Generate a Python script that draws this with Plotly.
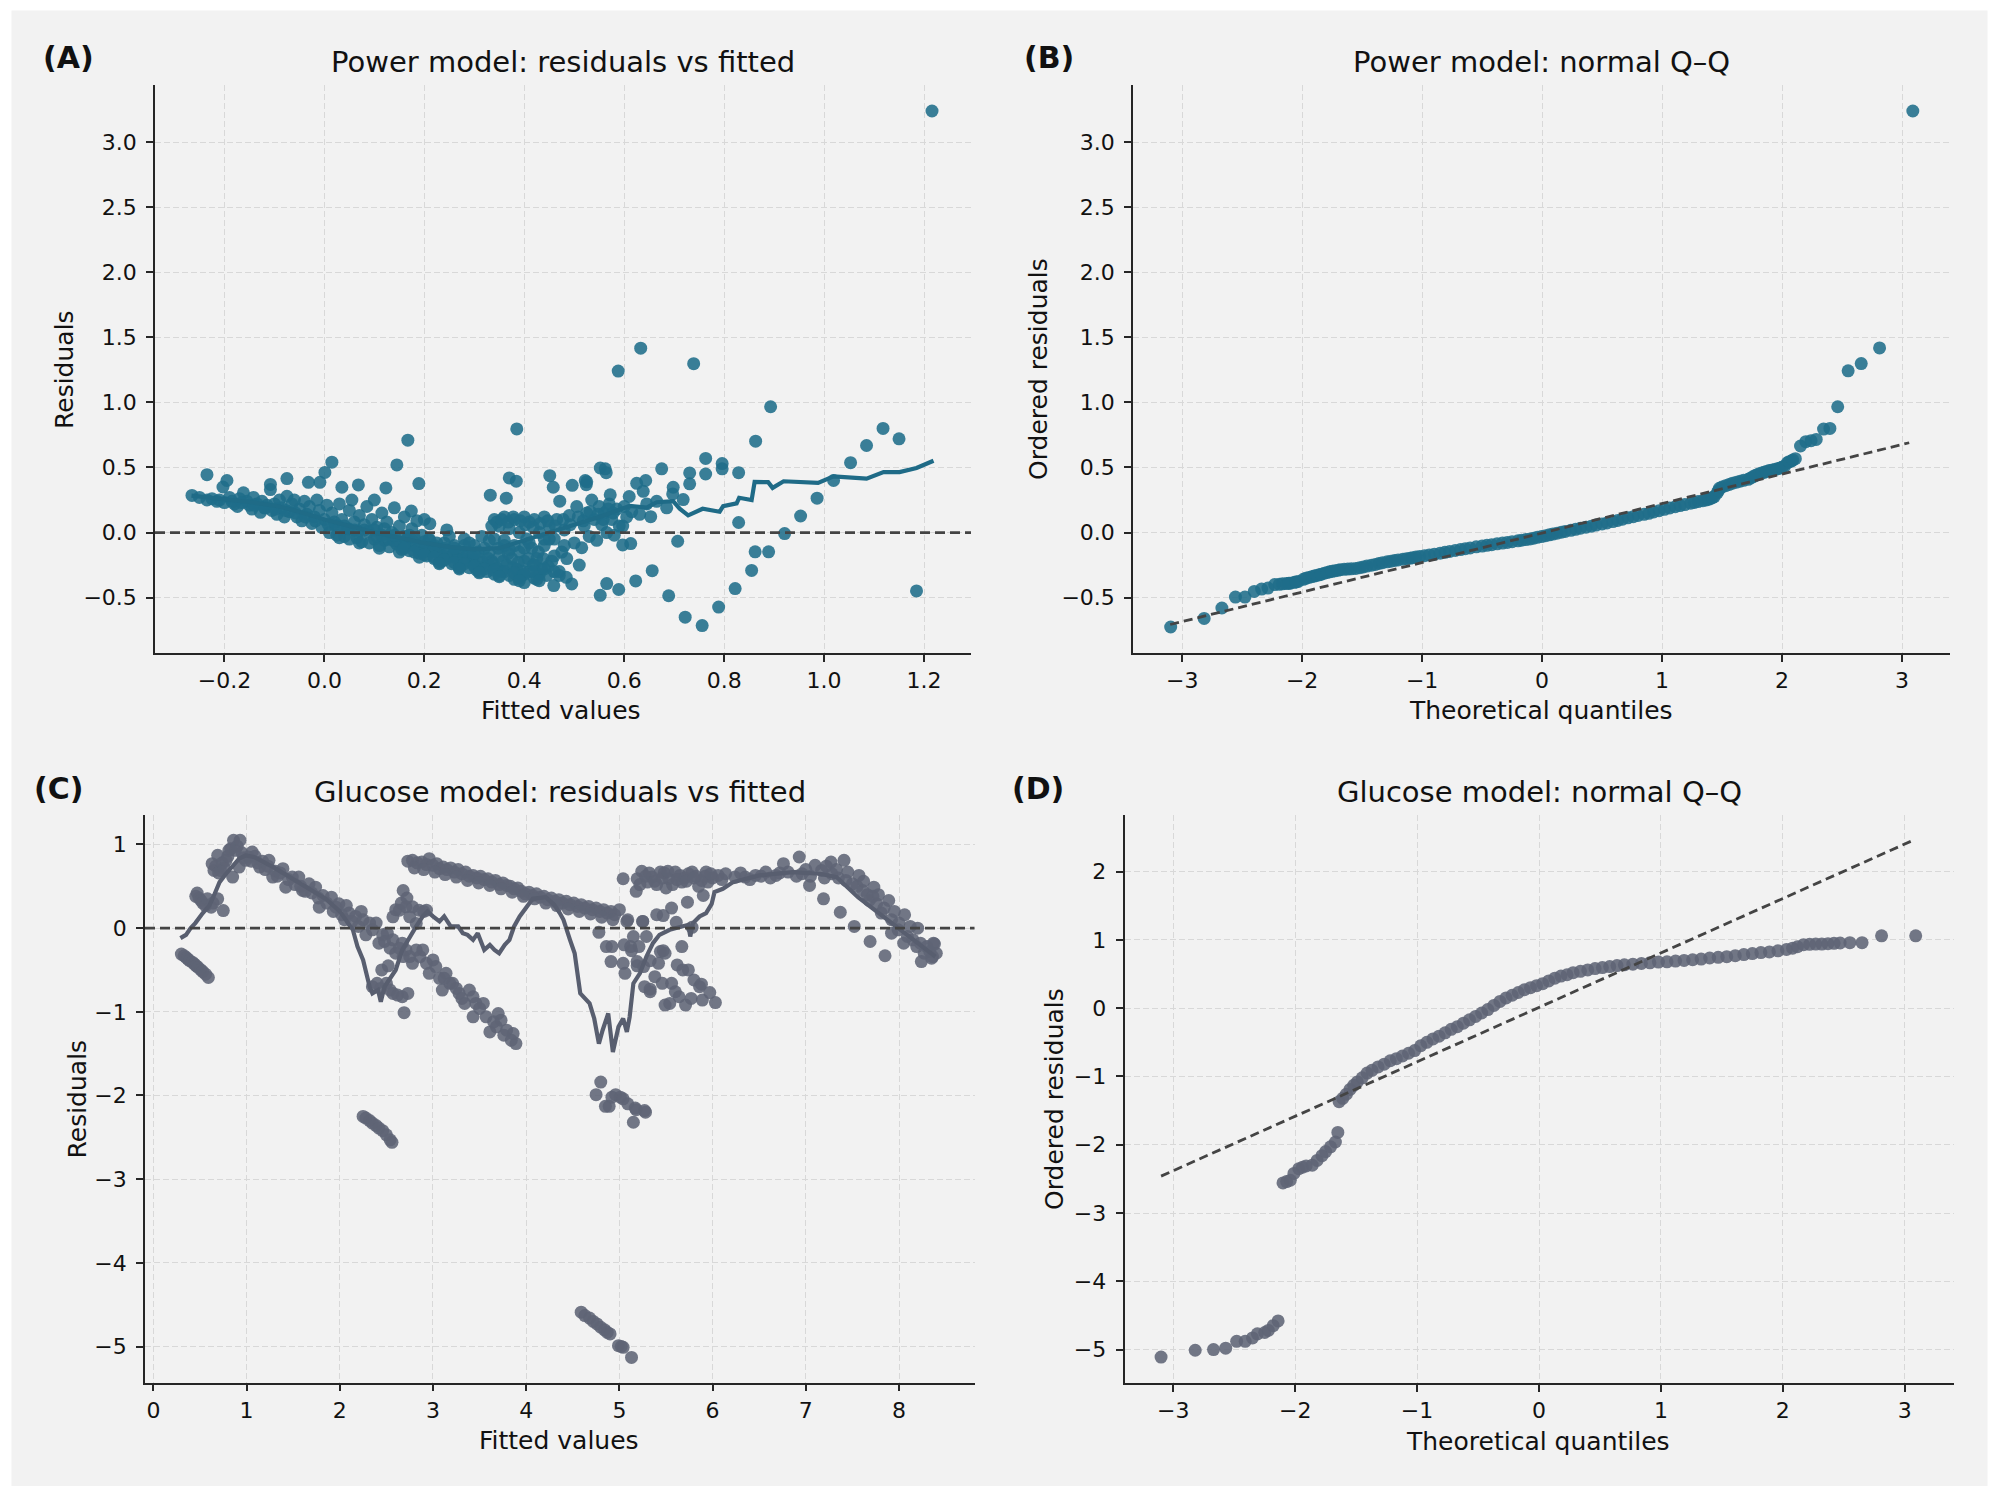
import plotly.graph_objects as go

# colours / fonts
TEAL = "#1f6d8a"
TEAL_LINE = "#1f6b87"
SLATE = "#5e6475"
SLATE_LINE = "#585e6f"
REF_LINE = "#444444"
PANEL_BG = "#f2f2f2"
GRID = "#d8d8d8"
SPINE = "#262626"
TEXT = "#111111"
FONT = "DejaVu Sans"

W, H = 1999, 1500

# ---------------- (A) power model: residuals vs fitted ----------------
power_fitted = [
    -0.265, -0.235, -0.235, -0.215, -0.203, -0.195, -0.200, -0.190, -0.180, -0.174,
    -0.170, -0.162, -0.155, -0.150, -0.145, -0.142, -0.135, -0.128, -0.125, -0.120,
    -0.115, -0.108, -0.108, -0.105, -0.100,
    -0.095, -0.090, -0.085, -0.080, -0.075, -0.075, -0.070, -0.065, -0.060, -0.055,
    -0.050, -0.045, -0.040, -0.035, -0.032, -0.030, -0.025, -0.020, -0.015, -0.010,
    -0.009, -0.005, 0.001, 0.000, 0.005,
    0.010, 0.015, 0.015, 0.020, 0.025, 0.030, 0.035, 0.035, 0.040, 0.045,
    0.050, 0.050, 0.055, 0.060, 0.065, 0.068, 0.070, 0.075, 0.080, 0.085,
    0.090, 0.095, 0.100, 0.100, 0.105,
    0.110, 0.115, 0.120, 0.123, 0.125, 0.130, 0.135, 0.140, 0.145, 0.145,
    0.150, 0.155, 0.160, 0.165, 0.167, 0.170, 0.174, 0.175, 0.180, 0.185,
    0.189, 0.190, 0.195, 0.200, 0.200, 0.205, 0.211, 0.210,
    0.215, 0.220, 0.225, 0.230, 0.235, 0.240, 0.245, 0.250, 0.255, 0.260,
    0.265, 0.270, 0.275, 0.280, 0.285, 0.290, 0.295, 0.300, 0.300, 0.305,
    0.310, 0.315, 0.320, 0.325, 0.330, 0.332, 0.335,
    0.340, 0.340, 0.345, 0.350, 0.350, 0.355, 0.360, 0.360, 0.364, 0.365,
    0.370, 0.370, 0.370, 0.375, 0.380, 0.380, 0.384, 0.385, 0.385, 0.390,
    0.390, 0.395, 0.400, 0.400, 0.400, 0.405, 0.410, 0.410, 0.415, 0.420,
    0.420,
    0.425, 0.425, 0.430, 0.435, 0.440, 0.440, 0.445, 0.450, 0.451, 0.455,
    0.458, 0.459, 0.460, 0.465, 0.470, 0.471, 0.475, 0.480, 0.484, 0.485,
    0.490, 0.495, 0.496, 0.500, 0.505, 0.510,
    0.515, 0.520, 0.522, 0.524, 0.525, 0.525, 0.530, 0.535, 0.540, 0.545,
    0.550, 0.552, 0.552, 0.555, 0.560, 0.562, 0.564, 0.565, 0.565, 0.570,
    0.572, 0.575, 0.580, 0.585, 0.588, 0.589, 0.590, 0.597, 0.597, 0.600,
    0.605, 0.610, 0.613, 0.615, 0.623, 0.625, 0.631, 0.633, 0.638, 0.643,
    0.645, 0.653, 0.656, 0.665, 0.675, 0.685, 0.689, 0.697, 0.698, 0.707,
    0.718, 0.722, 0.731, 0.731, 0.739, 0.756, 0.763, 0.763, 0.789, 0.796,
    0.796, 0.822, 0.829, 0.829, 0.855, 0.862, 0.863, 0.889, 0.893, 0.921,
    0.953, 0.986, 1.019, 1.053, 1.085, 1.118, 1.150, 1.185, 1.216,
    0.105, 0.115, 0.128, 0.138, 0.152, 0.162, 0.178, 0.188, 0.198, 0.218,
    0.228, 0.238, 0.248, 0.258, 0.268, 0.278, 0.288, 0.298, 0.308, 0.318,
    0.328, 0.338, 0.348, 0.358, 0.368, 0.378, 0.388, 0.398, 0.408, 0.418,
    0.428, 0.438, 0.448,
    -0.250, -0.225, -0.210, -0.185, -0.165, -0.140, -0.118, -0.098, -0.078, -0.058,
    -0.038, -0.018, 0.008, 0.028, 0.048, 0.068, 0.088,
    0.335, 0.345, 0.355, 0.368, 0.378, 0.392, 0.402, 0.418, 0.432, 0.447,
    0.462, 0.478, 0.492, 0.508, 0.518, 0.532, 0.548, 0.558, 0.568, 0.578,
    0.020, 0.040, 0.060, 0.080, 0.100, 0.120, 0.140, 0.160, 0.180, 0.200,
    0.220, 0.240, 0.260, 0.280, 0.300, 0.320, 0.340, 0.360, 0.380, 0.400,
    0.420, 0.440, 0.460, 0.480,
    0.030, 0.070, 0.110, 0.150, 0.190, 0.230, 0.270, 0.310, 0.350, 0.390,
    0.430, 0.470,
    0.160, 0.180, 0.200, 0.220, 0.240, 0.260, 0.280, 0.300, 0.320, 0.340,
    0.360, 0.380, 0.400, 0.420, 0.440, 0.460,
    0.170, 0.210, 0.250, 0.290, 0.330, 0.370, 0.410, 0.450,
    0.230, 0.270, 0.310, 0.350, 0.390, 0.430,
]
power_resid = [
    0.285, 0.445, 0.250, 0.240, 0.350, 0.400, 0.230, 0.270, 0.220, 0.200,
    0.260, 0.305, 0.240, 0.210, 0.180, 0.270, 0.220, 0.155, 0.240, 0.190,
    0.210, 0.370, 0.330, 0.170, 0.220,
    0.140, 0.250, 0.190, 0.120, 0.415, 0.279, 0.160, 0.220, 0.250, 0.120,
    0.180, 0.090, 0.240, 0.140, 0.386, 0.200, 0.070, 0.120, 0.250, 0.170,
    0.386, 0.040, 0.462, 0.100, 0.210,
    0.000, 0.541, 0.150, 0.060, -0.020, 0.220, 0.348, 0.100, -0.030, 0.030,
    0.170, -0.050, 0.250, 0.080, -0.040, 0.366, 0.130, -0.070, 0.020, 0.200,
    -0.080, 0.100, -0.050, 0.250, 0.040,
    -0.100, 0.150, -0.060, 0.343, 0.080, -0.110, 0.000, 0.190, 0.520, -0.090,
    0.050, -0.130, 0.120, -0.050, 0.710, -0.140, 0.165, 0.030, -0.100, 0.090,
    0.376, -0.160, -0.020, 0.100, -0.120, -0.180, 0.068, -0.050,
    -0.150, -0.200, -0.080, -0.170, -0.220, -0.120, 0.020, -0.190, -0.240, -0.100,
    -0.200, -0.260, -0.150, -0.050, -0.220, -0.270, -0.180, -0.100, -0.250, -0.290,
    -0.200, -0.030, -0.260, -0.300, -0.150, 0.287, -0.220,
    0.100, -0.320, -0.270, 0.050, -0.180, -0.300, 0.120, -0.100, 0.264, -0.250,
    0.420, 0.030, -0.330, -0.200, 0.100, -0.360, 0.395, 0.796, -0.280, 0.000,
    -0.150, -0.330, 0.120, -0.385, -0.220, -0.050, 0.080, -0.300, -0.120, 0.100,
    -0.350,
    -0.360, -0.200, 0.000, -0.280, 0.120, -0.100, -0.330, 0.050, 0.437, -0.220,
    0.348, -0.408, -0.050, 0.100, -0.300, 0.241, -0.150, 0.020, -0.344, -0.200,
    0.130, -0.395, 0.363, -0.080, 0.200, -0.250,
    -0.117, 0.050, 0.400, 0.368, 0.390, 0.150, -0.030, 0.250, 0.100, -0.060,
    0.200, 0.496, -0.483, 0.060, 0.150, 0.490, 0.460, -0.392, 0.000, 0.220,
    0.290, 0.100, -0.020, 0.180, 1.241, -0.438, 0.050, -0.095, 0.050, 0.200,
    0.120, 0.277, -0.085, 0.160, -0.372, 0.378, 0.140, 1.417, 0.317, 0.400,
    0.220, 0.122, -0.293, 0.240, 0.490, 0.190, -0.486, 0.297, 0.348, -0.067,
    0.253, -0.651, 0.458, 0.374, 1.298, -0.715, 0.570, 0.450, -0.573, 0.530,
    0.490, -0.431, 0.460, 0.077, -0.291, -0.148, 0.702, -0.148, 0.967, -0.008,
    0.127, 0.264, 0.400, 0.537, 0.669, 0.800, 0.720, -0.449, 3.240,
    -0.030, -0.020, -0.050, -0.060, -0.080, -0.090, -0.070, -0.120, -0.150, -0.110,
    -0.130, -0.180, -0.140, -0.170, -0.150, -0.200, -0.160, -0.210, -0.150, -0.230,
    -0.200, -0.240, -0.120, -0.220, -0.160, -0.270, -0.230, -0.300, -0.200, -0.250,
    -0.150, -0.200, -0.260,
    0.270, 0.260, 0.250, 0.240, 0.230, 0.210, 0.190, 0.180, 0.170, 0.150,
    0.120, 0.090, 0.060, 0.050, 0.030, 0.010, 0.010,
    0.050, 0.080, 0.100, 0.080, 0.120, 0.090, 0.060, 0.040, 0.070, 0.090,
    0.050, 0.100, 0.060, 0.120, 0.090, 0.160, 0.140, 0.100, 0.180, 0.150,
    0.080, 0.050, 0.020, 0.060, 0.020, 0.030, -0.020, -0.030, -0.040, -0.070,
    -0.100, -0.080, -0.120, -0.100, -0.160, -0.120, -0.050, -0.060, -0.100, -0.120,
    -0.250, -0.050, -0.180, -0.100,
    -0.040, -0.080, -0.120, -0.150, -0.190, -0.230, -0.270, -0.300, -0.330, -0.350,
    -0.320, -0.330,
    -0.120, -0.150, -0.170, -0.190, -0.210, -0.230, -0.240, -0.260, -0.280, -0.290,
    -0.300, -0.310, -0.320, -0.300, -0.280, -0.300,
    -0.020, -0.060, -0.030, -0.080, -0.060, -0.130, -0.080, -0.050,
    -0.240, -0.280, -0.310, -0.340, -0.370, -0.370,
]

# smoother drawn through panel A
power_smooth_x = [
    -0.266, -0.200, -0.150, -0.090, -0.050, 0.000, 0.050, 0.100, 0.150, 0.200,
    0.250, 0.300, 0.350, 0.400, 0.450, 0.500, 0.550, 0.611, 0.645, 0.665,
    0.698, 0.711, 0.728, 0.757, 0.791, 0.798, 0.825, 0.830, 0.855, 0.861,
    0.888, 0.897, 0.919, 0.988, 1.019, 1.085, 1.119, 1.151, 1.185, 1.219,
]
power_smooth_y = [
    0.283, 0.255, 0.235, 0.200, 0.160, 0.100, 0.050, 0.000, -0.040, -0.080,
    -0.110, -0.130, -0.120, -0.060, 0.000, 0.060, 0.120, 0.204, 0.191, 0.233,
    0.241, 0.183, 0.132, 0.183, 0.160, 0.203, 0.224, 0.267, 0.249, 0.389,
    0.387, 0.343, 0.394, 0.381, 0.432, 0.414, 0.465, 0.465, 0.496, 0.552,
]

# ---------------- (B) power model: normal Q-Q ----------------
power_qq_theor = [
    -3.096, -2.817, -2.669, -2.556, -2.477, -2.399, -2.338, -2.285, -2.229, -2.190,
    -2.163, -2.130, -2.098, -2.065, -2.032, -1.990, -1.945, -1.900, -1.858, -1.815,
    -1.771, -1.727, -1.683, -1.620, -1.553, -1.490, -1.422, -1.360, -1.291, -1.230,
    -1.160, -1.100, -1.051, -0.980, -0.898, -0.810, -0.724, -0.640, -0.549, -0.460,
    -0.375, -0.290, -0.201, -0.135, -0.070, -0.005, 0.061, 0.125, 0.192, 0.280,
    0.366, 0.450, 0.541, 0.630, 0.715, 0.800, 0.890, 0.975, 1.064, 1.150,
    1.239, 1.300, 1.369, 1.405, 1.435, 1.460, 1.478, 1.530, 1.587, 1.650,
    1.718, 1.760, 1.805, 1.850, 1.893, 1.940, 1.980, 2.020, 2.045, 2.080,
    2.111, 2.154, 2.198, 2.242, 2.285, 2.346, 2.399, 2.464, 2.551, 2.660,
    2.813, 3.090,
    -2.11, -2.05, -1.97, -1.92, -1.88, -1.84, -1.79, -1.75, -1.70, -1.65,
    -1.59, -1.52, -1.46, -1.39, -1.33, -1.26, -1.20, -1.13, -1.08, -1.02,
    -0.94, -0.85, -0.77, -0.68, -0.60, -0.50, -0.42, -0.33, -0.25, -0.17,
    -0.10, -0.04, 0.03, 0.09, 0.16, 0.24, 0.32, 0.41, 0.50, 0.59,
    0.67, 0.76, 0.85, 0.93, 1.02, 1.11, 1.19, 1.27, 1.34, 1.39,
    1.42, 1.47, 1.50, 1.56, 1.62, 1.68, 1.74, 1.78, 1.83, 1.87,
    1.92, 1.96, 2.00, 2.06, 2.09,
]
power_qq_resid = [
    -0.726, -0.660, -0.580, -0.496, -0.496, -0.453, -0.435, -0.427, -0.400, -0.398,
    -0.394, -0.392, -0.389, -0.383, -0.376, -0.360, -0.345, -0.335, -0.325, -0.313,
    -0.302, -0.294, -0.286, -0.281, -0.276, -0.264, -0.251, -0.238, -0.225, -0.215,
    -0.205, -0.197, -0.189, -0.178, -0.166, -0.152, -0.138, -0.124, -0.110, -0.098,
    -0.087, -0.076, -0.064, -0.054, -0.043, -0.031, -0.018, -0.005, 0.008, 0.025,
    0.041, 0.057, 0.074, 0.093, 0.113, 0.131, 0.148, 0.168, 0.189, 0.207,
    0.225, 0.238, 0.251, 0.262, 0.276, 0.305, 0.340, 0.360, 0.379, 0.394,
    0.409, 0.430, 0.450, 0.463, 0.476, 0.485, 0.494, 0.510, 0.537, 0.550,
    0.568, 0.665, 0.698, 0.706, 0.716, 0.795, 0.800, 0.967, 1.243, 1.299,
    1.419, 3.240,
    -0.390, -0.380, -0.352, -0.340, -0.330, -0.320, -0.307, -0.298, -0.290, -0.283,
    -0.279, -0.270, -0.258, -0.245, -0.232, -0.220, -0.211, -0.201, -0.193, -0.184,
    -0.172, -0.159, -0.145, -0.131, -0.118, -0.104, -0.093, -0.081, -0.070, -0.059,
    -0.049, -0.037, -0.024, -0.012, 0.002, 0.017, 0.033, 0.049, 0.066, 0.084,
    0.103, 0.122, 0.140, 0.158, 0.178, 0.198, 0.215, 0.231, 0.245, 0.256,
    0.269, 0.322, 0.350, 0.370, 0.387, 0.401, 0.420, 0.440, 0.457, 0.470,
    0.481, 0.490, 0.502, 0.545, 0.558,
]
power_qq_line_x = [-3.10, 3.06]
power_qq_line_y = [-0.707, 0.690]

# ---------------- (C) glucose model: residuals vs fitted ----------------
gl_seg1_x = [0.30, 0.33, 0.35, 0.37, 0.39, 0.42, 0.44, 0.46, 0.48, 0.51, 0.53, 0.56, 0.59]
gl_seg1_y = [-0.31, -0.33, -0.35, -0.37, -0.39, -0.41, -0.43, -0.45, -0.47, -0.50, -0.52, -0.55, -0.59]

gl_peak_x = [
    0.455, 0.47, 0.49, 0.51, 0.53, 0.56, 0.58, 0.62, 0.64, 0.69,
    0.75, 0.63, 0.65, 0.67, 0.69, 0.70, 0.72, 0.74, 0.76, 0.78,
    0.80, 0.81, 0.83, 0.85, 0.86, 0.88, 0.90, 0.92, 0.93, 0.95,
    0.97, 0.99,
]
gl_peak_y = [
    0.38, 0.42, 0.36, 0.33, 0.30, 0.27, 0.35, 0.25, 0.30, 0.35,
    0.21, 0.77, 0.69, 0.74, 0.87, 0.66, 0.69, 0.78, 0.72, 0.81,
    0.86, 0.93, 0.95, 0.61, 1.05, 0.93, 0.98, 0.73, 1.05, 0.90,
    0.84, 0.81,
]

gl_fall_x = [
    1.06, 1.14, 1.24, 1.28, 1.39, 1.42, 1.49, 1.56, 1.60, 1.67,
    1.74, 1.78, 1.82, 1.91, 1.96, 1.99, 2.07, 2.10, 2.17, 2.23,
    2.28, 2.32, 2.39, 2.42, 2.46, 2.51, 2.57, 2.60, 2.67, 2.71,
    2.75, 2.78, 2.82, 2.89, 2.93, 2.96, 3.00, 3.03, 3.07, 3.10,
    3.14, 3.18, 3.21, 3.28, 3.34, 3.39, 3.43, 3.46, 3.54, 3.43,
    3.57, 3.61, 3.68, 3.73, 3.79, 3.84, 3.89, 3.86,
    1.02, 1.05, 1.09, 1.12, 1.17, 1.20, 1.23, 1.31, 1.33, 1.36,
    1.45, 1.52, 1.58, 1.63, 1.70, 1.77, 1.86, 1.93, 2.02, 2.05,
    2.13, 2.20, 2.25, 2.35, 2.48, 2.54, 2.64, 2.68, 2.86, 3.12,
    3.25, 3.31, 3.50, 3.65, 3.76, 3.70,
]
gl_fall_y = [
    0.91, 0.73, 0.81, 0.61, 0.71, 0.49, 0.61, 0.61, 0.45, 0.53,
    0.49, 0.25, 0.39, 0.37, 0.25, 0.29, 0.27, 0.18, 0.14, 0.20,
    -0.08, 0.06, 0.06, -0.18, -0.08, -0.06, -0.14, -0.30, -0.18, -0.26,
    -0.34, -0.42, -0.26, -0.26, -0.42, -0.54, -0.38, -0.46, -0.60, -0.74,
    -0.54, -0.66, -0.66, -0.78, -0.90, -0.74, -0.82, -0.90, -0.90, -1.06,
    -1.06, -1.24, -1.18, -1.10, -1.22, -1.34, -1.38, -1.26,
    0.85, 0.80, 0.86, 0.78, 0.80, 0.70, 0.74, 0.68, 0.62, 0.66,
    0.58, 0.52, 0.50, 0.44, 0.42, 0.36, 0.30, 0.20, 0.16, 0.10,
    0.08, 0.02, 0.10, -0.02, -0.16, -0.24, -0.24, -0.34, -0.34, -0.60,
    -0.72, -0.84, -0.96, -1.12, -1.28, -1.02,
]

gl_branch_x = [2.35, 2.40, 2.44, 2.50, 2.54, 2.57, 2.62, 2.67, 2.73, 2.69, 2.45, 2.52,
               2.57, 2.60, 2.64, 2.68, 2.71, 2.75, 2.78, 2.82, 2.85, 2.90, 2.93, 2.66, 2.72]
gl_branch_y = [-0.70, -0.66, -0.72, -0.66, -0.74, -0.78, -0.80, -0.82, -0.78, -1.01, -0.50, -0.45,
               0.135, 0.22, 0.215, 0.45, 0.255, 0.135, 0.255, 0.056, 0.215, 0.20, 0.215, 0.30, 0.36]

gl_mid_x = [
    2.73, 2.78, 2.83, 2.88, 2.93, 2.96, 3.00, 3.04, 3.07, 3.11,
    3.15, 3.19, 3.23, 3.27, 3.31, 3.35, 3.39, 3.43, 3.47, 3.51,
    3.55, 3.59, 3.63, 3.67, 3.71, 3.75, 3.79, 3.83, 3.87, 3.91,
    3.95, 3.99, 4.03, 4.07, 4.11, 4.15, 4.19, 4.23, 4.27, 4.31,
    4.35, 4.39, 4.43, 4.47, 4.51, 4.55, 4.59, 4.63, 4.67, 4.71,
    4.75, 4.79, 4.83, 4.87, 4.91, 4.95, 5.00,
    2.80, 2.90, 3.02, 3.13, 3.25, 3.37, 3.49, 3.61, 3.73, 3.85,
    3.97, 4.09, 4.21, 4.33, 4.45, 4.57, 4.69, 4.81, 4.93,
]
gl_mid_y = [
    0.80, 0.81, 0.78, 0.79, 0.76, 0.83, 0.75, 0.77, 0.71, 0.73,
    0.70, 0.72, 0.67, 0.70, 0.65, 0.67, 0.62, 0.63, 0.60, 0.62,
    0.58, 0.59, 0.55, 0.57, 0.52, 0.54, 0.51, 0.50, 0.47, 0.48,
    0.44, 0.41, 0.43, 0.39, 0.41, 0.37, 0.38, 0.34, 0.36, 0.32,
    0.34, 0.30, 0.32, 0.28, 0.30, 0.26, 0.28, 0.24, 0.26, 0.22,
    0.24, 0.20, 0.22, 0.18, 0.20, 0.16, 0.22,
    0.72, 0.70, 0.67, 0.64, 0.61, 0.57, 0.54, 0.51, 0.47, 0.43,
    0.38, 0.35, 0.30, 0.27, 0.23, 0.20, 0.17, 0.13, 0.10,
]

gl_right_low_x = [
    4.86, 4.91, 5.06, 5.04, 5.12, 5.15, 5.25, 5.19, 5.26, 5.29,
    5.27, 5.33, 5.38, 5.42, 5.44, 5.49, 5.46, 5.49, 5.56, 5.62,
    5.68, 5.60, 5.64, 5.71, 5.77, 5.80, 5.86, 5.89, 5.97, 6.03,
    5.40, 5.56, 5.73, 5.21, 5.05, 4.78, 4.92, 5.13, 5.19, 5.33,
    5.47, 5.61, 5.78, 5.47, 5.67, 5.74, 5.88, 5.54, 5.33, 5.09,
]
gl_right_low_y = [
    -0.22, -0.40, -0.54, -0.42, -0.22, -0.10, 0.08, -0.40, -0.46, -0.10,
    -0.70, -0.76, -0.58, -0.42, -0.28, -0.30, -0.66, -0.92, -0.66, -0.44,
    -0.50, -0.76, -0.82, -0.92, -0.84, -0.62, -0.70, -0.86, -0.77, -0.89,
    0.16, 0.24, 0.31, -0.22, -0.20, -0.05, -0.22, -0.27, -0.45, -0.39,
    0.15, 0.07, 0.01, -0.27, -0.22, -0.50, -0.67, -0.90, -0.73, 0.10,
]

gl_right_high_x = [
    5.04, 5.18, 5.24, 5.19, 5.35, 5.44, 5.53, 5.60, 5.67, 5.74,
    5.78, 5.88, 5.93, 5.90, 5.25, 5.08, 6.06, 6.14, 6.24, 6.35,
    6.46, 6.57, 6.68, 6.76, 6.81, 6.93, 6.96, 7.04, 7.10, 7.17,
    7.27, 7.28, 7.41, 7.19, 7.37, 7.43, 7.50, 7.57, 7.61, 7.73,
    7.68, 7.76, 7.89, 7.81, 7.92, 8.06, 7.99, 8.09, 8.20, 8.19,
    8.27, 8.37, 8.36, 8.24, 7.52, 7.69, 7.85, 8.05, 7.92, 5.30,
    5.40, 5.48, 5.57, 5.65, 5.70, 5.82, 5.95, 6.00, 5.28, 5.50,
    5.85, 6.10, 6.30, 6.40, 6.52, 6.62, 6.72, 6.90, 7.00, 7.05,
    7.20, 7.22, 7.33, 7.35, 7.45, 7.55, 7.62, 7.66, 7.72, 7.78,
    7.84, 7.95, 8.00, 8.12, 8.15, 8.23, 8.30, 8.33, 8.40, 8.38,
    8.35,
    5.22, 5.32, 5.38, 5.46, 5.52, 5.62, 5.72, 5.80, 5.92, 5.98,
]
gl_right_high_y = [
    0.59, 0.44, 0.68, 0.59, 0.61, 0.67, 0.59, 0.67, 0.55, 0.65,
    0.67, 0.57, 0.67, 0.39, 0.08, 0.08, 0.63, 0.65, 0.61, 0.61,
    0.63, 0.67, 0.63, 0.77, 0.67, 0.85, 0.65, 0.51, 0.75, 0.69,
    0.79, 0.65, 0.81, 0.35, 0.19, 0.57, 0.53, 0.63, 0.45, 0.49,
    0.33, 0.29, 0.33, 0.18, 0.10, 0.16, -0.02, -0.10, 0.00, -0.22,
    -0.30, -0.18, -0.34, -0.40, 0.02, -0.16, -0.33, -0.18, -0.06, 0.55,
    0.52, 0.66, 0.52, 0.63, 0.60, 0.62, 0.55, 0.60, 0.62, 0.48,
    0.50, 0.58, 0.66, 0.58, 0.62, 0.60, 0.66, 0.62, 0.70, 0.62,
    0.60, 0.74, 0.70, 0.60, 0.67, 0.50, 0.56, 0.40, 0.38, 0.40,
    0.24, 0.20, 0.06, 0.02, -0.14, -0.18, -0.22, -0.28, -0.30, -0.19,
    -0.36,
    0.52, 0.66, 0.56, 0.60, 0.68, 0.58, 0.56, 0.60, 0.62, 0.65,
]

gl_out_x = [
    4.75, 4.80, 4.85, 4.89, 4.92, 4.96, 5.01, 5.04, 5.09, 5.15, 5.17, 5.18, 5.27, 5.28,
    2.25, 2.28, 2.32, 2.35, 2.39, 2.42, 2.46, 2.50, 2.54, 2.56,
    4.59, 4.63, 4.68, 4.72, 4.76, 4.80, 4.84, 4.87, 4.90, 4.99, 5.02, 5.04, 5.13,
]
gl_out_y = [
    -1.99, -1.84, -2.13, -2.13, -2.02, -1.99, -2.02, -2.04, -2.10, -2.32, -2.15, -2.17, -2.18, -2.20,
    -2.25, -2.27, -2.30, -2.33, -2.36, -2.39, -2.42, -2.47, -2.53, -2.56,
    -4.59, -4.63, -4.66, -4.70, -4.73, -4.77, -4.80, -4.83, -4.85, -4.99, -5.00, -5.01, -5.13,
]

glucose_fitted = (gl_seg1_x + gl_peak_x + gl_fall_x + gl_branch_x + gl_mid_x
                  + gl_right_low_x + gl_right_high_x + gl_out_x)
glucose_resid = (gl_seg1_y + gl_peak_y + gl_fall_y + gl_branch_y + gl_mid_y
                 + gl_right_low_y + gl_right_high_y + gl_out_y)

glucose_smooth_x = [
    0.29, 0.35, 0.40, 0.45, 0.53, 0.60, 0.65, 0.71, 0.78, 0.85,
    0.92, 0.99, 1.08, 1.30, 1.60, 1.85, 2.00, 2.07, 2.14, 2.19,
    2.25, 2.32, 2.35, 2.41, 2.44, 2.48, 2.53, 2.60, 2.67, 2.75,
    2.82, 2.89, 2.94, 3.00, 3.07, 3.12, 3.19, 3.27, 3.32, 3.37,
    3.43, 3.48, 3.55, 3.61, 3.66, 3.71, 3.77, 3.82, 3.87, 3.93,
    4.00, 4.07, 4.21, 4.30, 4.36, 4.40, 4.47, 4.52, 4.58, 4.68,
    4.73, 4.78, 4.82, 4.88, 4.93, 4.99, 5.04, 5.08, 5.11, 5.15,
    5.22, 5.29, 5.36, 5.43, 5.54, 5.65, 5.74, 5.76, 5.79, 5.86,
    5.93, 5.99, 6.02, 6.11, 6.22, 6.50, 6.86, 7.15, 7.33, 7.56,
    7.92, 8.28, 8.39,
]
glucose_smooth_y = [
    -0.12, -0.08, 0.00, 0.06, 0.18, 0.27, 0.39, 0.55, 0.65, 0.75,
    0.83, 0.87, 0.85, 0.72, 0.52, 0.35, 0.20, 0.10, -0.02, -0.22,
    -0.38, -0.70, -0.78, -0.74, -0.88, -0.70, -0.62, -0.50, -0.26, -0.10,
    0.02, 0.14, 0.20, 0.14, 0.08, 0.14, 0.02, 0.02, -0.06, -0.08,
    -0.14, -0.06, -0.26, -0.20, -0.26, -0.30, -0.20, -0.14, 0.02, 0.14,
    0.25, 0.35, 0.37, 0.28, 0.18, 0.10, -0.14, -0.30, -0.78, -0.90,
    -1.08, -1.38, -1.22, -1.02, -1.48, -1.18, -1.08, -1.24, -1.06, -0.66,
    -0.54, -0.34, -0.18, -0.08, -0.02, 0.02, 0.04, -0.10, 0.06, 0.14,
    0.18, 0.29, 0.43, 0.47, 0.55, 0.63, 0.67, 0.65, 0.61, 0.37,
    0.06, -0.26, -0.34,
]

# ---------------- (D) glucose model: normal Q-Q ----------------
glucose_qq_theor = [
    -3.10, -2.82, -2.67, -2.57, -2.48, -2.41, -2.35, -2.31, -2.25, -2.22,
    -2.18, -2.14, -2.10, -2.07, -2.04, -2.01, -1.97, -1.94, -1.91, -1.86,
    -1.82, -1.78, -1.75, -1.71, -1.67, -1.65, -1.64, -1.61, -1.58, -1.55,
    -1.52, -1.49, -1.45, -1.41, -1.37, -1.32, -1.27, -1.22, -1.17, -1.12,
    -1.07, -1.02, -0.97, -0.92, -0.87, -0.82, -0.77, -0.72, -0.67, -0.62,
    -0.57, -0.52, -0.47, -0.42, -0.37, -0.32, -0.27, -0.22, -0.17, -0.12,
    -0.07, -0.02, 0.03, 0.08, 0.13, 0.18, 0.23, 0.28, 0.34, 0.40,
    0.46, 0.52, 0.58, 0.64, 0.70, 0.77, 0.84, 0.91, 0.98, 1.05,
    1.12, 1.19, 1.26, 1.33, 1.40, 1.47, 1.54, 1.61, 1.68, 1.75,
    1.82, 1.89, 1.96, 2.03, 2.08, 2.12, 2.17, 2.22, 2.27, 2.32,
    2.37, 2.42, 2.47, 2.55, 2.65, 2.81, 3.09,
]
glucose_qq_resid = [
    -5.11, -5.01, -5.00, -4.98, -4.88, -4.88, -4.83, -4.77, -4.75, -4.72,
    -4.65, -4.58, -2.56, -2.54, -2.52, -2.42, -2.35, -2.33, -2.31, -2.30,
    -2.23, -2.16, -2.10, -2.03, -1.96, -1.82, -1.37, -1.32, -1.26, -1.19,
    -1.13, -1.08, -1.02, -0.95, -0.91, -0.86, -0.82, -0.77, -0.74, -0.70,
    -0.66, -0.62, -0.55, -0.50, -0.45, -0.41, -0.36, -0.31, -0.27, -0.22,
    -0.17, -0.12, -0.07, -0.02, 0.04, 0.10, 0.15, 0.19, 0.23, 0.27,
    0.30, 0.33, 0.36, 0.40, 0.44, 0.47, 0.49, 0.52, 0.54, 0.56,
    0.58, 0.595, 0.61, 0.625, 0.635, 0.645, 0.655, 0.665, 0.675, 0.68,
    0.69, 0.70, 0.71, 0.72, 0.735, 0.745, 0.755, 0.77, 0.785, 0.80,
    0.815, 0.825, 0.84, 0.86, 0.88, 0.90, 0.93, 0.935, 0.94, 0.94,
    0.945, 0.95, 0.955, 0.96, 0.96, 1.06, 1.06,
]
glucose_qq_line_x = [-3.10, 3.07]
glucose_qq_line_y = [-2.46, 2.46]

# ---------------- figure ----------------
fig = go.Figure()

marker_teal = dict(size=13, color=TEAL, opacity=0.88, line=dict(width=0))
marker_slate = dict(size=13, color=SLATE, opacity=0.88, line=dict(width=0))

fig.add_trace(go.Scatter(x=power_fitted, y=power_resid, mode="markers",
                         marker=marker_teal, xaxis="x", yaxis="y"))
fig.add_trace(go.Scatter(x=power_smooth_x, y=power_smooth_y, mode="lines",
                         line=dict(color=TEAL_LINE, width=4.2), xaxis="x", yaxis="y"))

fig.add_trace(go.Scatter(x=power_qq_theor, y=power_qq_resid, mode="markers",
                         marker=marker_teal, xaxis="x2", yaxis="y2"))
fig.add_trace(go.Scatter(x=power_qq_line_x, y=power_qq_line_y, mode="lines",
                         line=dict(color=REF_LINE, width=2.8, dash="9px,5px"),
                         xaxis="x2", yaxis="y2"))

fig.add_trace(go.Scatter(x=glucose_fitted, y=glucose_resid, mode="markers",
                         marker=marker_slate, xaxis="x3", yaxis="y3"))
fig.add_trace(go.Scatter(x=glucose_smooth_x, y=glucose_smooth_y, mode="lines",
                         line=dict(color=SLATE_LINE, width=4.2), xaxis="x3", yaxis="y3"))

fig.add_trace(go.Scatter(x=glucose_qq_theor, y=glucose_qq_resid, mode="markers",
                         marker=marker_slate, xaxis="x4", yaxis="y4"))
fig.add_trace(go.Scatter(x=glucose_qq_line_x, y=glucose_qq_line_y, mode="lines",
                         line=dict(color=REF_LINE, width=2.8, dash="9px,5px"),
                         xaxis="x4", yaxis="y4"))

# zero reference lines in the residual panels
for yref, xref in (("y", "x"), ("y3", "x3")):
    fig.add_shape(type="line", xref=f"{xref} domain", yref=yref, x0=0, x1=1, y0=0, y1=0,
                  line=dict(color=REF_LINE, width=2.8, dash="10px,5px"), layer="above")


def xdom(left, right):
    return [left / W, right / W]


def ydom(top, bottom):
    return [1 - bottom / H, 1 - top / H]


axis_style = dict(
    showline=True, linecolor=SPINE, linewidth=1.6, mirror=False,
    ticks="outside", ticklen=7, tickwidth=1.6, tickcolor=SPINE,
    showgrid=True, gridcolor=GRID, gridwidth=1, griddash="6px,3px",
    zeroline=False,
    tickfont=dict(family=FONT, size=22, color=TEXT),
)
x_style = dict(axis_style, ticklabelstandoff=0)
y_style = dict(axis_style, ticklabelstandoff=5)

fig.update_layout(
    width=W, height=H,
    margin=dict(l=0, r=0, t=0, b=0),
    paper_bgcolor="white", plot_bgcolor=PANEL_BG,
    showlegend=False,
    font=dict(family=FONT, color=TEXT),
    xaxis=dict(x_style, domain=xdom(155, 971), range=[-0.339, 1.294],
               dtick=0.2, tick0=0, tickformat=".1f", anchor="y"),
    yaxis=dict(y_style, domain=ydom(85, 653), range=[-0.926, 3.44],
               dtick=0.5, tick0=0, tickformat=".1f", anchor="x"),
    xaxis2=dict(x_style, domain=xdom(1133, 1950), range=[-3.41, 3.40],
                dtick=1, tick0=0, anchor="y2"),
    yaxis2=dict(y_style, domain=ydom(85, 653), range=[-0.926, 3.44],
                dtick=0.5, tick0=0, tickformat=".1f", anchor="x2"),
    xaxis3=dict(x_style, domain=xdom(145, 974.5), range=[-0.09, 8.81],
                dtick=1, tick0=0, anchor="y3"),
    yaxis3=dict(y_style, domain=ydom(815, 1382.5), range=[-5.43, 1.352],
                dtick=1, tick0=0, anchor="x3"),
    xaxis4=dict(x_style, domain=xdom(1124.5, 1953.5), range=[-3.40, 3.40],
                dtick=1, tick0=0, anchor="y4"),
    yaxis4=dict(y_style, domain=ydom(815, 1383), range=[-5.49, 2.83],
                dtick=1, tick0=0, anchor="x4"),
)

# light grey card behind the panels
fig.add_shape(type="rect", xref="paper", yref="paper",
              x0=11.5 / W, x1=1987.5 / W, y0=1 - 1486 / H, y1=1 - 10.5 / H,
              fillcolor=PANEL_BG, line=dict(width=0), layer="below")


def label(text, x, y, size, angle=0, xanchor="center"):
    fig.add_annotation(text=text, xref="paper", yref="paper", x=x / W, y=1 - y / H,
                       xanchor=xanchor, yanchor="middle", textangle=angle, showarrow=False,
                       font=dict(family=FONT, size=size, color=TEXT))


# panel titles
label("Power model: residuals vs fitted", 563, 62, 29)
label("Power model: normal Q–Q", 1541.5, 62, 29)
label("Glucose model: residuals vs fitted", 560, 792, 29)
label("Glucose model: normal Q–Q", 1539, 792, 29)

# panel letters
label("<b>(A)</b>", 41, 57, 30, xanchor="left")
label("<b>(B)</b>", 1022, 57, 30, xanchor="left")
label("<b>(C)</b>", 32, 788, 30, xanchor="left")
label("<b>(D)</b>", 1010, 788, 30, xanchor="left")

# axis labels
label("Fitted values", 561, 710, 25)
label("Residuals", 64, 369, 25, angle=-90)
label("Theoretical quantiles", 1541, 710, 25)
label("Ordered residuals", 1038, 369, 25, angle=-90)
label("Fitted values", 559, 1440, 25)
label("Residuals", 76.5, 1099, 25, angle=-90)
label("Theoretical quantiles", 1538, 1441.5, 25)
label("Ordered residuals", 1054, 1099, 25, angle=-90)

fig.write_html("out.html", config={"displayModeBar": False},
               post_script="document.body.style.margin='0';")
